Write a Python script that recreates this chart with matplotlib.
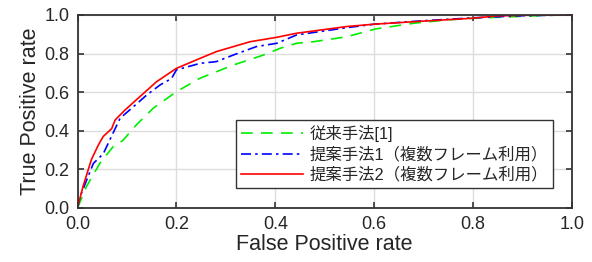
import matplotlib
matplotlib.use("Agg")
import matplotlib.pyplot as plt

plt.rcParams['font.family'] = ['Liberation Sans', 'Noto Sans CJK JP']

labels = ["従来手法[1]", "提案手法1（複数フレーム利用）", "提案手法2（複数フレーム利用）"]

fpr_conv = [0.0, 0.005, 0.018, 0.045, 0.072, 0.092, 0.119, 0.153, 0.2, 0.248, 0.315, 0.376,
            0.41, 0.443, 0.477, 0.545, 0.602, 0.68, 0.747, 0.80, 0.882, 0.95, 1.0]
tpr_conv = [0.0, 0.03, 0.11, 0.23, 0.317, 0.35, 0.43, 0.516, 0.602, 0.672, 0.74, 0.792,
            0.827, 0.853, 0.861, 0.887, 0.927, 0.957, 0.974, 0.983, 0.991, 0.998, 1.0]

fpr_p1 = [0.0, 0.005, 0.021, 0.032, 0.052, 0.076, 0.086, 0.113, 0.14, 0.167, 0.19, 0.2,
          0.248, 0.281, 0.315, 0.362, 0.403, 0.443, 0.545, 0.6, 0.7, 0.8, 0.9, 1.0]
tpr_p1 = [0.0, 0.057, 0.16, 0.23, 0.28, 0.41, 0.464, 0.524, 0.585, 0.637, 0.67, 0.715,
          0.749, 0.758, 0.792, 0.836, 0.853, 0.896, 0.934, 0.952, 0.97, 0.985, 0.996, 1.0]

fpr_p2 = [0.0, 0.011, 0.028, 0.042, 0.052, 0.069, 0.076, 0.096, 0.126, 0.16, 0.2, 0.248,
          0.281, 0.349, 0.403, 0.443, 0.545, 0.6, 0.7, 0.8, 0.848, 0.9, 1.0]
tpr_p2 = [0.0, 0.11, 0.25, 0.325, 0.37, 0.41, 0.455, 0.507, 0.576, 0.654, 0.723, 0.775,
          0.81, 0.861, 0.884, 0.905, 0.94, 0.952, 0.968, 0.983, 0.995, 0.998, 1.0]

fig = plt.figure(figsize=(5.92, 2.62), dpi=100)
ax = fig.add_axes([0.131, 0.207, 0.835, 0.736])

ax.plot(fpr_conv, tpr_conv, color='#00ee00', lw=1.2, linestyle=(0, (7, 5)), label=labels[0])
ax.plot(fpr_p1, tpr_p1, color='#0000ff', lw=1.2, linestyle=(0, (6, 2.5, 1.5, 2.5)), label=labels[1])
ax.plot(fpr_p2, tpr_p2, color='#ff0000', lw=1.2, linestyle='-', label=labels[2])

ax.set_xlim(0, 1)
ax.set_ylim(0, 1)
ticks = [0.0, 0.2, 0.4, 0.6, 0.8, 1.0]
ax.set_xticks(ticks)
ax.set_yticks(ticks)
ax.set_xticklabels([f"{t:.1f}" for t in ticks])
ax.set_yticklabels([f"{t:.1f}" for t in ticks])
ax.grid(True, color='#dddddd', lw=1.0)
ax.set_axisbelow(True)
ax.tick_params(direction='in', length=4, width=1.2, colors='#333333', labelsize=13,
               top=True, right=True, labelcolor='#262626', pad=6)
for s in ax.spines.values():
    s.set_color('#333333')
    s.set_linewidth(1.3)

ax.set_xlabel("False Positive rate", fontsize=15.5, color='#262626', labelpad=1)
ax.set_ylabel("True Positive rate", fontsize=15.5, color='#262626', labelpad=2)

leg = ax.legend(loc='lower right', bbox_to_anchor=(0.962, 0.105), fontsize=11.8,
                handlelength=3.8, handletextpad=0.4, labelspacing=0.28,
                borderpad=0.3, borderaxespad=0, fancybox=False, framealpha=1)
leg.get_frame().set_edgecolor('#333333')
leg.get_frame().set_linewidth(1.0)
for t in leg.get_texts():
    t.set_color('#262626')

fig.savefig("out.png", dpi=100)
